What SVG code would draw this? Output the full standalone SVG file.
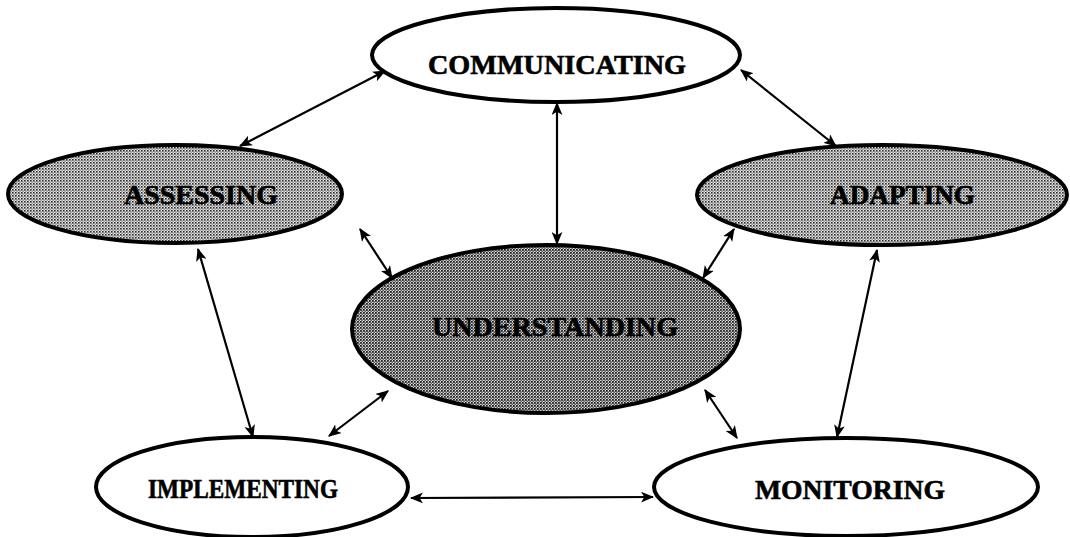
<svg xmlns="http://www.w3.org/2000/svg" width="1070" height="537" viewBox="0 0 1070 537">
  <defs>
    <pattern id="dots" width="3" height="3" patternUnits="userSpaceOnUse">
      <rect width="3" height="3" fill="#e6e6e6"/>
      <rect x="0" y="0" width="1.6" height="1.6" fill="#2a2a2a"/>
      <rect x="1.5" y="1.5" width="1.2" height="1.2" fill="#555"/>
    </pattern>
    <pattern id="dots2" width="3" height="3" patternUnits="userSpaceOnUse">
      <rect width="3" height="3" fill="#d8d8d8"/>
      <rect x="0" y="0" width="1.8" height="1.8" fill="#222"/>
      <rect x="1.5" y="1.5" width="1.4" height="1.4" fill="#444"/>
    </pattern>
    <marker id="ah" viewBox="0 0 12 10" refX="11" refY="5" markerWidth="13" markerHeight="11" markerUnits="userSpaceOnUse" orient="auto-start-reverse">
      <path d="M0,0 L12,5 L0,10 L3,5 Z" fill="#000"/>
    </marker>
  </defs>
  <style>
    .node { stroke: #000; stroke-width: 4; }
    .plain { fill: #fff; }
    .shade { fill: url(#dots); }
    .shade2 { fill: url(#dots2); }
    .lbl { font-family: "Liberation Serif", "Times New Roman", serif; font-weight: bold; font-size: 27px; fill: #000; stroke: #000; stroke-width: 0.6; text-anchor: start; }
    .conn line { stroke: #000; stroke-width: 2.2; marker-start: url(#ah); marker-end: url(#ah); }
  </style>

  <g id="connectors" class="conn">
    <line x1="240" y1="146" x2="385" y2="71"/>
    <line x1="741" y1="70" x2="836" y2="146"/>
    <line x1="557" y1="103" x2="557" y2="244"/>
    <line x1="360" y1="229" x2="392" y2="278"/>
    <line x1="734" y1="229" x2="703" y2="278"/>
    <line x1="198" y1="249" x2="253" y2="437"/>
    <line x1="877" y1="250" x2="837" y2="437"/>
    <line x1="388" y1="391" x2="329" y2="436"/>
    <line x1="705" y1="390" x2="737" y2="438"/>
    <line x1="411" y1="498" x2="653" y2="497"/>
  </g>

  <g id="communicating">
    <ellipse class="node plain" cx="556" cy="55" rx="184" ry="47"/>
    <text class="lbl" x="428" y="74" textLength="258" lengthAdjust="spacingAndGlyphs">COMMUNICATING</text>
  </g>
  <g id="assessing">
    <ellipse class="node shade" cx="175" cy="194" rx="167" ry="49"/>
    <text class="lbl" x="124" y="204" textLength="154" lengthAdjust="spacingAndGlyphs">ASSESSING</text>
  </g>
  <g id="adapting">
    <ellipse class="node shade" cx="882" cy="195" rx="185" ry="50"/>
    <text class="lbl" x="830" y="204" textLength="145" lengthAdjust="spacingAndGlyphs">ADAPTING</text>
  </g>
  <g id="understanding">
    <ellipse class="node shade2" cx="546" cy="329" rx="194" ry="84"/>
    <text class="lbl" x="432" y="336" textLength="246" lengthAdjust="spacingAndGlyphs">UNDERSTANDING</text>
  </g>
  <g id="implementing">
    <ellipse class="node plain" cx="252" cy="487" rx="156" ry="50"/>
    <text class="lbl" x="148" y="498" textLength="190" lengthAdjust="spacingAndGlyphs">IMPLEMENTING</text>
  </g>
  <g id="monitoring">
    <ellipse class="node plain" cx="846" cy="487" rx="192" ry="49"/>
    <text class="lbl" x="755" y="499" textLength="190" lengthAdjust="spacingAndGlyphs">MONITORING</text>
  </g>
</svg>
